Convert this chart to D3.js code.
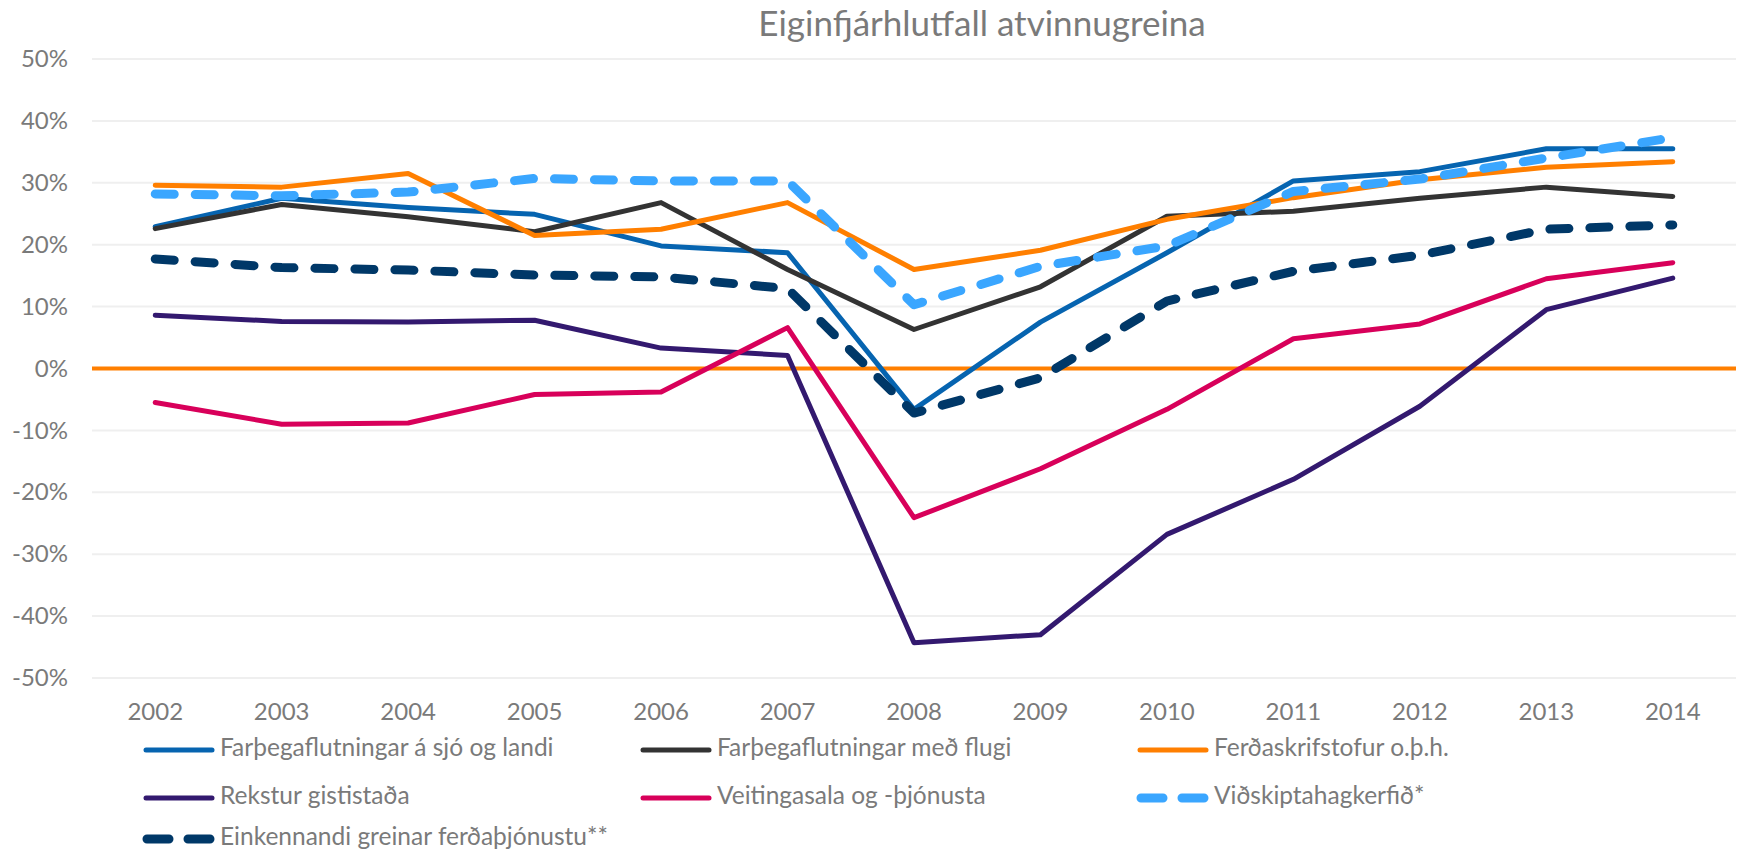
<!DOCTYPE html>
<html>
<head>
<meta charset="utf-8">
<script src="https://cdn.jsdelivr.net/npm/d3@7"></script>
<style>
  body { margin: 0; background: #fff; }
  text { font-family: Lato, "Open Sans", sans-serif; fill: #7a7a7a; }
</style>
</head>
<body>
<div id="container"></div>
<script>
/* CONSTANTS AND GLOBALS */
const width = 1742;
const height = 854;
const margin = { top: 59, right: 6, bottom: 176, left: 92 };

/* DATA */
const years = [2002, 2003, 2004, 2005, 2006, 2007, 2008, 2009, 2010, 2011, 2012, 2013, 2014];
const yTicks = [-50, -40, -30, -20, -10, 0, 10, 20, 30, 40, 50];

const seriesNames = [
  "Farþegaflutningar á sjó og landi",
  "Farþegaflutningar með flugi",
  "Ferðaskrifstofur o.þ.h.",
  "Rekstur gististaða",
  "Veitingasala og -þjónusta",
  "Viðskiptahagkerfið*",
  "Einkennandi greinar ferðaþjónustu**"
];
const sjoLandi      = [22.9, 27.5, 26.0, 24.9, 19.8, 18.7, -6.6, 7.5, 18.7, 30.3, 31.8, 35.5, 35.5];
const flug          = [22.6, 26.5, 24.5, 22.1, 26.8, 16.0, 6.3, 13.2, 24.6, 25.4, 27.5, 29.3, 27.8];
const ferdaskrif    = [29.6, 29.3, 31.5, 21.5, 22.5, 26.8, 16.0, 19.1, 24.1, 27.6, 30.5, 32.5, 33.4];
const gististadir   = [8.6, 7.6, 7.5, 7.8, 3.3, 2.1, -44.3, -43.0, -26.8, -17.9, -6.1, 9.5, 14.6];
const veitingar     = [-5.5, -9.0, -8.8, -4.2, -3.8, 6.6, -24.1, -16.2, -6.6, 4.8, 7.2, 14.5, 17.1];
const vidskipti     = [28.2, 27.9, 28.5, 30.7, 30.3, 30.3, 10.3, 16.5, 19.8, 28.6, 30.6, 34.0, 37.3];
const einkennandi   = [17.7, 16.3, 15.9, 15.1, 14.8, 12.9, -7.2, -1.5, 10.9, 15.7, 18.3, 22.5, 23.2];

const seriesValues = [sjoLandi, flug, ferdaskrif, gististadir, veitingar, vidskipti, einkennandi];
const colors = ["#0664b0", "#333333", "#ff7f00", "#33196f", "#d8005a", "#3aa6ff", "#003868"];
const dashed = [false, false, false, false, false, true, true];

/* SCALES */
const xScale = d3.scaleBand()
  .domain(years)
  .range([margin.left, width - margin.right])
  .padding(0);

const yScale = d3.scaleLinear()
  .domain([-50, 50])
  .range([height - margin.bottom, margin.top]);

const xPos = d => xScale(d) + xScale.bandwidth() / 2;

/* SVG */
const svg = d3.select("#container")
  .append("svg")
  .attr("width", width)
  .attr("height", height);

// title
svg.append("text")
  .attr("x", 982)
  .attr("y", 36)
  .attr("text-anchor", "middle")
  .style("font-size", "35px")
  .text("Eiginfjárhlutfall atvinnugreina");

// gridlines
svg.append("g")
  .selectAll("line")
  .data(yTicks)
  .join("line")
  .attr("x1", margin.left)
  .attr("x2", width - margin.right)
  .attr("y1", d => yScale(d))
  .attr("y2", d => yScale(d))
  .attr("stroke", "#efefef")
  .attr("stroke-width", 2);

// y axis labels
const yAxis = svg.append("g")
  .attr("transform", `translate(${margin.left - 24},0)`)
  .call(d3.axisLeft(yScale).tickValues(yTicks).tickSize(0).tickFormat(d => d + "%"));
yAxis.select(".domain").remove();
yAxis.selectAll("text").style("font-size", "24px").attr("fill", "#7a7a7a").attr("x", 0);

// x axis labels
const xAxis = svg.append("g")
  .attr("transform", `translate(0,${height - margin.bottom + 22})`)
  .call(d3.axisBottom(xScale).tickSize(0));
xAxis.select(".domain").remove();
xAxis.selectAll("text").style("font-size", "24px").attr("fill", "#7a7a7a");

// zero line
svg.append("line")
  .attr("x1", margin.left)
  .attr("x2", width - margin.right)
  .attr("y1", yScale(0))
  .attr("y2", yScale(0))
  .attr("stroke", "#ff7f00")
  .attr("stroke-width", 4);

// lines
const line = d3.line()
  .x((d, i) => xPos(years[i]))
  .y(d => yScale(d));

svg.append("g")
  .selectAll("path")
  .data(seriesValues)
  .join("path")
  .attr("d", d => line(d))
  .attr("fill", "none")
  .attr("stroke", (d, i) => colors[i])
  .attr("stroke-width", (d, i) => dashed[i] ? 9 : 5)
  .attr("stroke-linecap", "round")
  .attr("stroke-linejoin", "round")
  .attr("stroke-dasharray", (d, i) => dashed[i] ? "19 21" : null);

// legend
const legendCols = [144, 641, 1138];
const legendRows = [750, 798, 839];
const legend = svg.append("g")
  .selectAll("g")
  .data(seriesNames)
  .join("g")
  .attr("transform", (d, i) => `translate(${legendCols[i % 3]},${legendRows[Math.floor(i / 3)]})`);

legend.append("line")
  .attr("x1", (d, i) => dashed[i] ? 3 : 2)
  .attr("x2", (d, i) => dashed[i] ? 67 : 68)
  .attr("stroke", (d, i) => colors[i])
  .attr("stroke-width", (d, i) => dashed[i] ? 9 : 5)
  .attr("stroke-linecap", "round")
  .attr("stroke-dasharray", (d, i) => dashed[i] ? "22 19" : null);

legend.append("text")
  .attr("x", 76)
  .attr("dominant-baseline", "middle")
  .style("font-size", "24.5px")
  .text(d => d);
</script>
</body>
</html>
